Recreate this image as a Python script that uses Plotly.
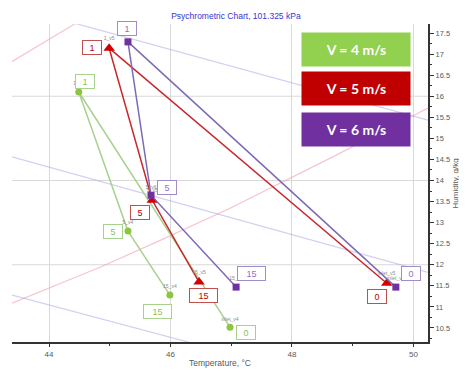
import plotly.graph_objects as go

# ---------------- data ----------------
positions = ["0", "1", "5", "15"]
tiny_v4 = ["inlet_v4", "1_v4", "5_v4", "15_v4"]
tiny_v5 = ["inlet_v5", "1_v5", "5_v5", "15_v5"]
tiny_v6 = ["inlet_v6", "1_v6", "5_v6", "15_v6"]

temp_v4 = [46.98, 44.49, 45.30, 45.99]
hum_v4 = [10.52, 16.10, 12.80, 11.28]
temp_v5 = [49.56, 44.99, 45.70, 46.47]
hum_v5 = [11.56, 17.14, 13.53, 11.59]
temp_v6 = [49.71, 45.30, 45.68, 47.08]
hum_v6 = [11.47, 17.29, 13.65, 11.47]

legend_names = ["V = 4 m/s", "V = 5 m/s", "V = 6 m/s"]

# background chart curves (relative humidity / enthalpy lines)
rh_a_t = [43.39, 44.84, 45.83, 46.98, 48.63, 50.24]
rh_a_w = [11.09, 11.94, 12.58, 13.34, 14.53, 15.72]
rh_b_t = [43.19, 44.51]
rh_b_w = [16.65, 17.79]
en_a_t = [44.35, 50.24]
en_a_w = [17.76, 15.43]
en_b_t = [43.39, 50.24]
en_b_w = [14.56, 11.82]
en_c_t = [43.39, 46.49]
en_c_w = [11.28, 10.09]

humidity_grid = [12, 14, 16]

# ---------------- styles ----------------
X_RANGE = [43.391, 50.239]
Y_RANGE = [10.167, 17.714]

series = [
    dict(t=temp_v4, w=hum_v4, tiny=tiny_v4, line="#A9D18E", marker="#8CC63F",
         symbol="circle", size=7, text="#8DBF5A", border="#A9D18E",
         offsets=[(16, 5), (6, -11), (-15, 0), (-12, 16)], legend="#92D050"),
    dict(t=temp_v5, w=hum_v5, tiny=tiny_v5, line="#C8282D", marker="#D40000",
         symbol="triangle-up", size=10, text="#C00000", border="#C0504D",
         offsets=[(-10, 13), (-17, -1), (-12, 12), (4, 13)], legend="#C00000"),
    dict(t=temp_v6, w=hum_v6, tiny=tiny_v6, line="#7E6AB5", marker="#7030A0",
         symbol="square", size=7, text="#8E72C2", border="#A08CC8",
         offsets=[(15, -14), (-1, -13), (16, -8), (15, -14)], legend="#7030A0"),
]

fig = go.Figure()

pink = "rgba(236,150,165,0.55)"
blue = "rgba(170,170,230,0.55)"
for xs, ys, c in [(rh_a_t, rh_a_w, pink), (rh_b_t, rh_b_w, pink),
                  (en_a_t, en_a_w, blue), (en_b_t, en_b_w, blue),
                  (en_c_t, en_c_w, blue)]:
    fig.add_trace(go.Scatter(x=xs, y=ys, mode="lines",
                             line=dict(color=c, width=1.2),
                             hoverinfo="skip", showlegend=False))

for s in series:
    fig.add_trace(go.Scatter(
        x=s["t"], y=s["w"], mode="lines+markers+text",
        text=s["tiny"], textposition="top center",
        textfont=dict(size=5, color="#8a8a8a", family="Liberation Sans"),
        line=dict(color=s["line"], width=1.5),
        marker=dict(color=s["marker"], symbol=s["symbol"], size=s["size"]),
        showlegend=False))

annotations = []
for s in series:
    for i, p in enumerate(positions):
        ax, ay = s["offsets"][i]
        annotations.append(dict(
            x=s["t"][i], y=s["w"][i], xref="x", yref="y",
            text=p, showarrow=True, arrowcolor="rgba(0,0,0,0)",
            ax=ax, ay=ay,
            font=dict(size=9, color=s["text"], family="Liberation Sans"),
            bgcolor="white", bordercolor=s["border"], borderwidth=1,
            borderpad=1, width=16 if len(p) == 1 else 25, height=11))

legend_y = [0.921, 0.797, 0.667]
for s, name, yy in zip(series, legend_names, legend_y):
    annotations.append(dict(
        x=0.827, y=yy, xref="paper", yref="paper", showarrow=False,
        text="<b>" + name + "</b>", xanchor="center", yanchor="middle",
        font=dict(size=14, color="white", family="Lato"),
        bgcolor=s["legend"], width=106, height=31, borderpad=1))

# y-axis title placed as a rotated annotation right of the tick labels
annotations.append(dict(
    x=1.066, y=0.5, xref="paper", yref="paper", showarrow=False,
    text="Humidity, g/kg", textangle=-90, xanchor="center", yanchor="middle",
    font=dict(size=8, color="#595959", family="Liberation Sans")))

shapes = [dict(type="line", xref="paper", x0=0, x1=1, yref="y", y0=g, y1=g,
               line=dict(color="#D9D9D9", width=1), layer="below")
          for g in humidity_grid]

# the page adds an 8px body margin, so margins are reduced by 8px on top/left
fig.update_layout(
    width=467, height=372,
    margin=dict(l=4, r=47, t=16, b=38),
    plot_bgcolor="white", paper_bgcolor="white",
    title=dict(text="Psychrometric Chart, 101.325 kPa", x=0.488, y=0.978,
               xanchor="center", yanchor="middle",
               font=dict(size=8.5, color="#3535D5", family="Liberation Sans")),
    annotations=annotations, shapes=shapes,
    xaxis=dict(range=X_RANGE, dtick=2, tick0=0, showgrid=True,
               gridcolor="#D9D9D9", gridwidth=1, zeroline=False,
               showline=True, linecolor="#333333", linewidth=2,
               ticks="outside", ticklen=3, tickcolor="#333333",
               minor=dict(dtick=1, ticks="outside", ticklen=2, tickcolor="#333333"),
               tickfont=dict(size=8, color="#595959", family="Liberation Sans"),
               title=dict(text="Temperature, °C", standoff=2,
                          font=dict(size=8.5, color="#595959", family="Liberation Sans")),
               automargin=False),
    yaxis=dict(range=Y_RANGE, side="right", dtick=0.5, tick0=0, showgrid=False,
               zeroline=False, showline=True, linecolor="#333333", linewidth=2,
               ticks="outside", ticklen=4, tickcolor="#333333",
               minor=dict(dtick=0.25, ticks="outside", ticklen=2, tickcolor="#333333"),
               tickfont=dict(size=7.5, color="#595959", family="Liberation Sans"),
               automargin=False),
)

fig.write_html("out.html")
